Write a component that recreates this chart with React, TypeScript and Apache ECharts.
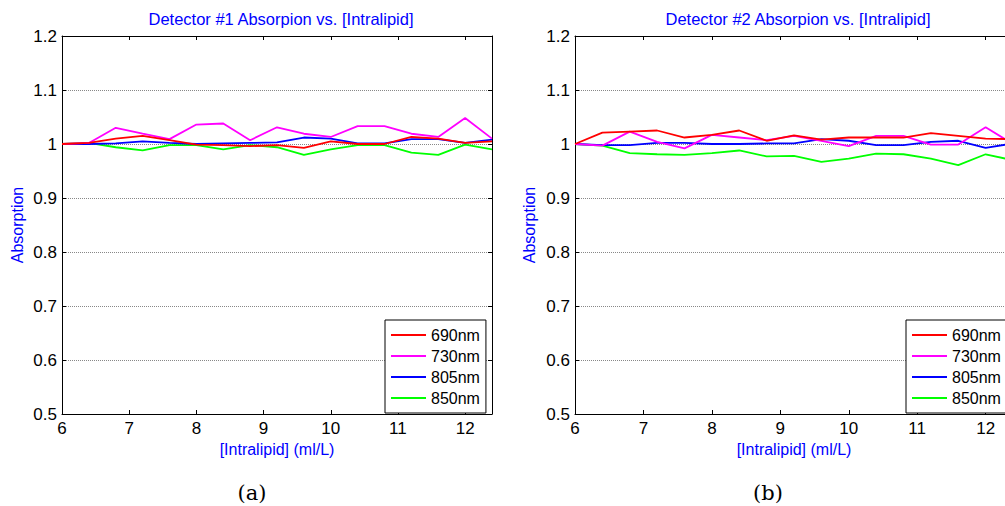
import React, { useEffect, useRef } from "react";
import * as echarts from "echarts";

const xs = [6, 6.4, 6.8, 7.2, 7.6, 8, 8.4, 8.8, 9.2, 9.6, 10, 10.4, 10.8, 11.2, 11.6, 12, 12.4];
const wavelengths = ["690nm", "730nm", "805nm", "850nm"];
const colors = ["#ff0000", "#ff00ff", "#0000ff", "#00ff00"];

const det1_690 = [1.0, 1.002, 1.01, 1.015, 1.007, 0.999, 0.998, 0.996, 0.998, 0.993, 1.005, 1.0, 1.0, 1.013, 1.01, 1.002, 1.005];
const det1_730 = [1.0, 1.002, 1.03, 1.019, 1.009, 1.036, 1.038, 1.007, 1.031, 1.019, 1.013, 1.033, 1.033, 1.019, 1.013, 1.048, 1.01];
const det1_805 = [1.0, 1.0, 1.001, 1.005, 1.002, 1.0, 1.001, 1.002, 1.003, 1.012, 1.01, 1.001, 1.001, 1.009, 1.009, 1.002, 1.008];
const det1_850 = [1.0, 1.002, 0.994, 0.988, 0.998, 0.998, 0.99, 0.998, 0.994, 0.98, 0.99, 0.998, 0.998, 0.984, 0.98, 0.999, 0.99];

const det2_690 = [1.0, 1.021, 1.023, 1.025, 1.012, 1.017, 1.025, 1.006, 1.016, 1.008, 1.012, 1.012, 1.012, 1.02, 1.015, 1.01, 1.009];
const det2_730 = [1.0, 0.997, 1.023, 1.004, 0.992, 1.017, 1.012, 1.007, 1.015, 1.006, 0.996, 1.015, 1.015, 0.999, 0.999, 1.031, 1.0];
const det2_805 = [1.0, 0.998, 0.998, 1.002, 1.002, 1.0, 1.0, 1.001, 1.001, 1.009, 1.006, 0.998, 0.998, 1.004, 1.006, 0.993, 1.001];
const det2_850 = [1.0, 0.997, 0.983, 0.981, 0.98, 0.983, 0.988, 0.977, 0.978, 0.967, 0.973, 0.982, 0.981, 0.973, 0.961, 0.981, 0.97];

const detectors = [
  { title: "Detector #1 Absorpion vs. [Intralipid]", caption: "(a)", series: [det1_690, det1_730, det1_805, det1_850] },
  { title: "Detector #2 Absorpion vs. [Intralipid]", caption: "(b)", series: [det2_690, det2_730, det2_805, det2_850] },
];

const FONT = '"Liberation Sans", Arial, Helvetica, sans-serif';

const grids = [
  { left: 62, top: 36, width: 430, height: 378, titleX: 276, capX: 252, legendLeft: 385, nameGap: 37 },
  { left: 575, top: 36, width: 438, height: 378, titleX: 793, capX: 768, legendLeft: 906, nameGap: 38 },
];

export default function App() {
  const ref = useRef<HTMLDivElement>(null);
  useEffect(() => {
    if (!ref.current) return;
    const chart = echarts.init(ref.current, undefined, { renderer: "svg" });
    const black = { color: "#000", width: 1 };
    const xAxis: any[] = [];
    const yAxis: any[] = [];
    const series: any[] = [];
    grids.forEach((g, i) => {
      const baseX = {
        type: "value",
        gridIndex: i,
        min: 6,
        max: 12.4,
        interval: 1,
        axisLine: { show: true, onZero: false, lineStyle: black },
        axisTick: { show: true, inside: true, length: 4, lineStyle: black },
        splitLine: { show: false },
      };
      xAxis.push({
        ...baseX,
        position: "bottom",
        axisLabel: { color: "#000", fontSize: 17, margin: 6, fontFamily: FONT, showMaxLabel: false },
        name: "[Intralipid] (ml/L)",
        nameLocation: "middle",
        nameGap: 27,
        nameTextStyle: { color: "#0000ff", fontSize: 16, fontFamily: FONT },
      });
      xAxis.push({ ...baseX, position: "top", axisLabel: { show: false } });
      const baseY = {
        type: "value",
        gridIndex: i,
        min: 0.5,
        max: 1.2,
        interval: 0.1,
        axisLine: { show: true, onZero: false, lineStyle: black },
        axisTick: { show: true, inside: true, length: 4, lineStyle: black },
      };
      yAxis.push({
        ...baseY,
        position: "left",
        axisLabel: { color: "#000", fontSize: 17, margin: 5, fontFamily: FONT },
        splitLine: { show: true, lineStyle: { type: "dotted", color: "#888", width: 1 } },
        name: "Absorption",
        nameLocation: "middle",
        nameGap: g.nameGap,
        nameTextStyle: { color: "#0000ff", fontSize: 16, fontFamily: FONT },
      });
      yAxis.push({ ...baseY, position: "right", axisLabel: { show: false }, splitLine: { show: false } });
      detectors[i].series.forEach((vals, k) => {
        series.push({
          type: "line",
          name: wavelengths[k],
          xAxisIndex: i * 2,
          yAxisIndex: i * 2,
          data: xs.map((x, j) => [x, vals[j]]),
          symbol: "none",
          showSymbol: false,
          lineStyle: { width: 1.8, color: colors[k] },
          itemStyle: { color: colors[k] },
          z: 2 + (3 - k) * 0.1,
        });
      });
    });
    chart.setOption({
      animation: false,
      backgroundColor: "#fff",
      grid: grids.map((g) => ({ left: g.left, top: g.top, width: g.width, height: g.height })),
      title: grids.map((g, i) => ({
        text: detectors[i].title,
        left: g.titleX,
        top: 5,
        textAlign: "center",
        textStyle: { color: "#0000ff", fontSize: 16.5, fontWeight: "normal", fontFamily: FONT },
      })),
      legend: grids.map((g) => ({
        data: wavelengths,
        left: g.legendLeft,
        top: 320,
        orient: "vertical",
        icon: "rect",
        itemWidth: 35,
        itemHeight: 2,
        itemGap: 3,
        padding: [6, 6, 6, 6],
        borderColor: "#000",
        borderWidth: 1,
        borderRadius: 0,
        backgroundColor: "#fff",
        textStyle: { fontSize: 16, color: "#000", fontFamily: FONT, lineHeight: 18 },
        selectedMode: false,
        z: 10,
      })),
      xAxis,
      yAxis,
      series,
      graphic: grids.map((g, i) => ({
        type: "text",
        x: g.capX,
        y: 493,
        style: {
          text: detectors[i].caption,
          fontSize: 21,
          fontFamily: '"DejaVu Serif", "Liberation Serif", serif',
          fill: "#000",
          textAlign: "center",
          textVerticalAlign: "middle",
        },
      })),
    });
    return () => chart.dispose();
  }, []);
  return (
    <div style={{ position: "fixed", left: 0, top: 0, width: 1005, height: 506, overflow: "hidden", background: "#fff" }}>
      <div ref={ref} style={{ width: 1020, height: 506 }} />
    </div>
  );
}
